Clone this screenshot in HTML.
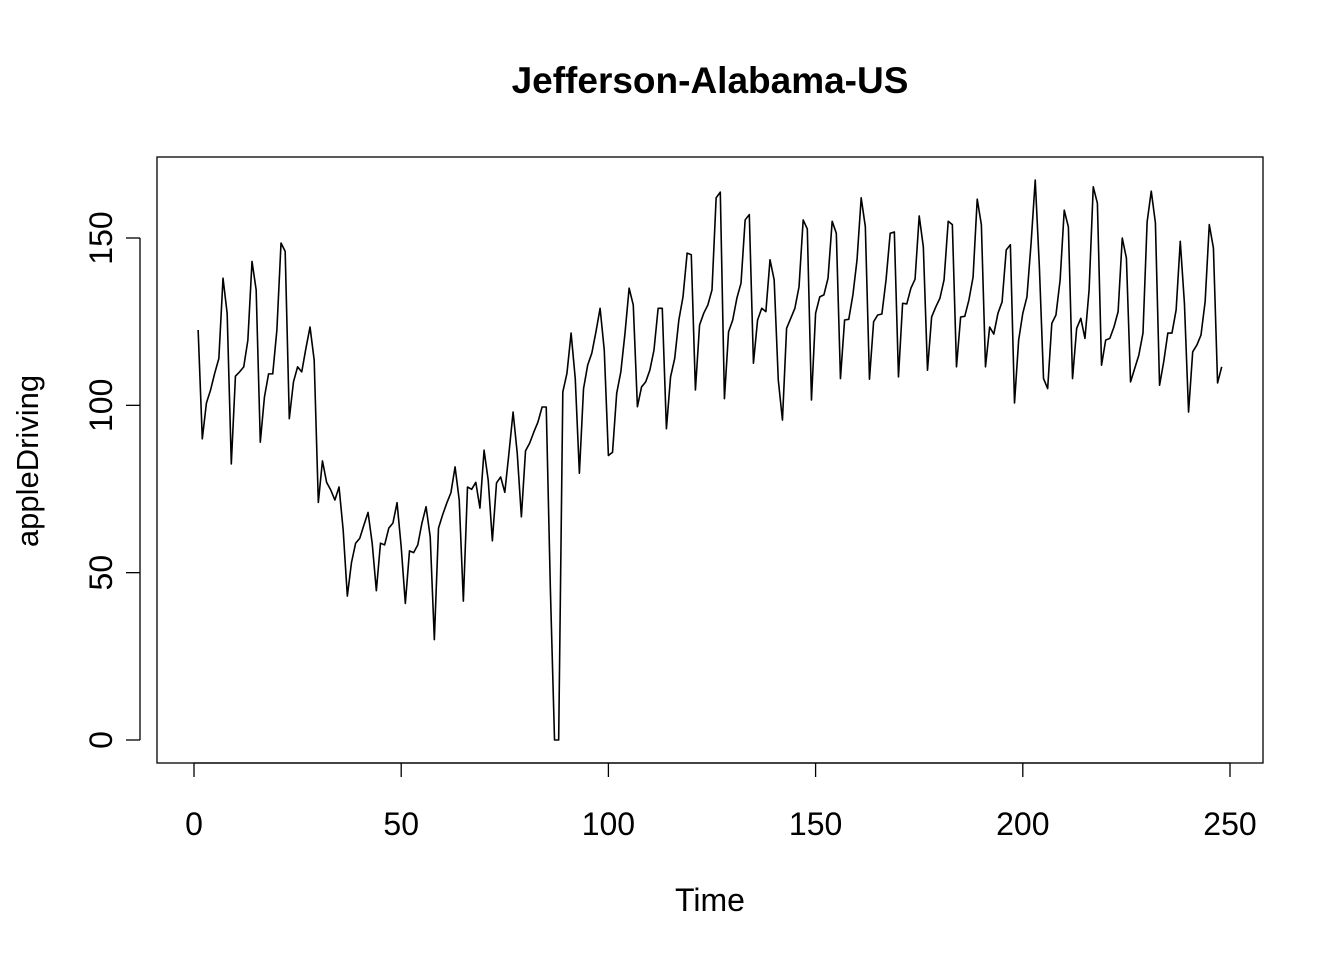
<!DOCTYPE html>
<html><head><meta charset="utf-8"><style>
html,body{margin:0;padding:0;background:#fff;}
svg text{font-family:"Liberation Sans",Arial,sans-serif;}
</style></head><body>
<svg id="chart" width="1344" height="960" xmlns="http://www.w3.org/2000/svg">
<rect width="1344" height="960" fill="#fff"/>
<text x="710" y="93" text-anchor="middle" font-size="37" font-weight="bold">Jefferson-Alabama-US</text>
<rect x="157" y="157" width="1106" height="606" fill="none" stroke="#000" stroke-width="1.3"/>
<text x="710" y="911" text-anchor="middle" font-size="32">Time</text>
<text transform="translate(38,461) rotate(-90)" text-anchor="middle" font-size="31">appleDriving</text>
<g id="axes"></g>
<g id="series"></g>
</svg>
<script>
const values = [122.5,90,100.7,104.6,109.6,114,138,127.5,82.5,108.7,110,111.5,119.5,143,134.5,89,102.5,109.4,109.4,122.5,148.5,146,96,107,111.5,110,117,123.4,113.5,71,83.4,77,74.7,71.7,75.6,62.7,43,53,58.8,60.3,64.2,68,58.8,44.6,58.8,58.3,63.3,64.8,70.9,57.7,40.8,56.5,56,58.3,64.8,69.7,60.7,30,63.3,67.3,70.8,73.9,81.6,71.7,41.5,75.6,74.9,77,69.3,86.6,77.6,59.5,76.8,78.6,74,85.7,98,85.7,66.7,86.4,88.7,92,95,99.5,99.5,45,0,0,104,109.6,121.6,108,79.7,105,112,115.6,122,129,116.5,85,86,103.6,110,121.5,135,130,99.6,105.5,107,110.5,116.5,129,129,93,108.5,114,125.5,132.4,145.5,145,104.6,124,127.5,130,134.5,162,163.7,102,122,125.5,132,136.5,155.4,157,112.6,125.5,129,128,143.5,137.5,107.5,95.6,123,126,129,135.4,155.4,152.7,101.6,127.5,132.4,133,138,155,151.4,108,125.5,125.7,133,143.5,162,153.4,107.8,125,127,127.3,137.5,151.4,151.8,108.5,130.5,130.3,135,137.7,156.6,147.3,110.5,126.4,129.4,132,137.5,155,154,111.5,126.4,126.6,131.5,138.3,161.6,154,111.5,123.4,121.3,127.5,130.9,146.4,148,100.7,119.5,127.5,132.4,148.5,167.3,141.3,108,105,124.5,127,137.4,158.3,153.3,108,123,126,120,134.5,165.3,160.4,112,119.5,120,123.4,128,150,144,107,111,115,121.6,154.8,164,154.5,106,113,121.6,121.6,128.5,149,130.5,98,116,118,121,131,154,147,106.7,111.5];
const xTicks = [0,50,100,150,200,250];
const yTicks = [0,50,100,150];
const NS = "http://www.w3.org/2000/svg";
function sx(t){return 194 + (t/250)*(1230-194);}
function sy(v){return 740 - (v/150)*(740-238);}
const axes = document.getElementById('axes');
function mk(tag, attrs, parent){const e=document.createElementNS(NS,tag);for(const k in attrs)e.setAttribute(k,attrs[k]);parent.appendChild(e);return e;}
const xa = mk('line',{x1:sx(xTicks[0]),x2:sx(xTicks[xTicks.length-1]),y1:763,y2:763,stroke:'#000','stroke-width':1.3},axes);


xTicks.forEach(t=>{
  const l = mk('line',{x1:sx(t),x2:sx(t),y1:763,y2:777,stroke:'#000','stroke-width':1.3},axes);
  
  
  const tx = mk('text',{x:sx(t),y:835,'text-anchor':'middle','font-size':32},axes);
  tx.textContent = t;
  
  
});
const ya = mk('line',{x1:140,x2:140,y1:sy(yTicks[0]),y2:sy(yTicks[yTicks.length-1]),stroke:'#000','stroke-width':1.3},axes);


yTicks.forEach(v=>{
  const l = mk('line',{x1:126,x2:140,y1:sy(v),y2:sy(v),stroke:'#000','stroke-width':1.3},axes);
  
  
  const tx = mk('text',{transform:`translate(112,${sy(v)}) rotate(-90)`,'text-anchor':'middle','font-size':32},axes);
  tx.textContent = v;
  
  
});
const pts = values.map((v,i)=>sx(i+1).toFixed(2)+','+sy(v).toFixed(2)).join(' ');
const line = mk('polyline',{points:pts,fill:'none',stroke:'#000','stroke-width':1.6,'stroke-linejoin':'round'},document.getElementById('series'));


</script>
</body></html>
